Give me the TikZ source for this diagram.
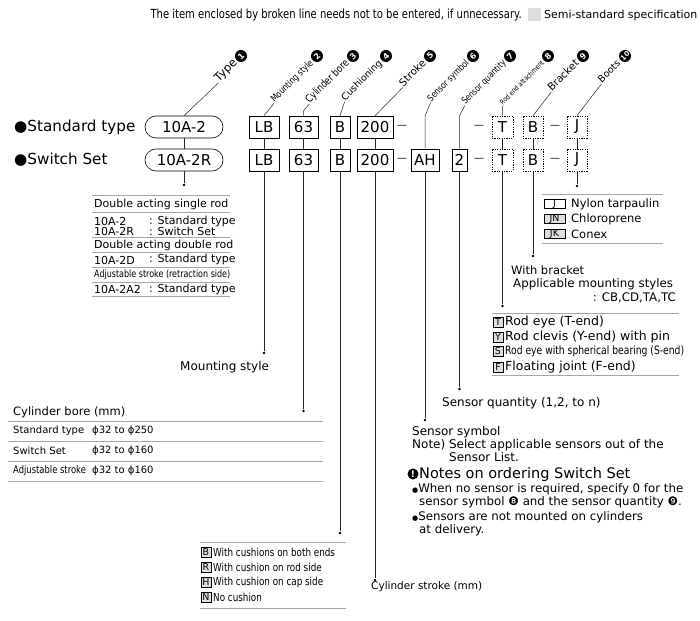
\documentclass[tikz,border=0pt]{standalone}
\usepackage{fontspec}
\setmainfont{DejaVu Sans}
\newfontfamily\narrowfont[FakeStretch=0.8]{DejaVu Sans}
\newcommand{\fs}[1]{\fontsize{#1}{#1}\selectfont}
\usetikzlibrary{calc}

\begin{document}
\begin{tikzpicture}[x=1pt,y=-1pt,
    box/.style={draw,line width=0.6pt,minimum height=22pt,inner sep=0pt,font=\fs{15}},
    optbox/.style={box,dash pattern=on 1.2pt off 1.2pt},
    sep/.style={inner sep=0pt,font=\fs{10}},
    conn/.style={line width=0.5pt,black!85},
    rule/.style={line width=0.7pt,gray!70},
    dot/.style={circle,fill=black,inner sep=0pt,minimum size=2.8pt},
    lab/.style={rotate=45,anchor=base east,inner sep=0.5pt},
    numc/.style={circle,fill=black,text=white,inner sep=0pt,minimum size=12pt,font=\bfseries\fs{8},rotate=45},
    txt/.style={anchor=west,inner sep=0pt},
    key/.style={draw,line width=0.5pt,fill=gray!25,inner sep=0pt,minimum size=10pt,font=\fs{9.5}}]
\useasboundingbox (0,0) rectangle (700,620);

% header
\node[txt,anchor=east,font=\narrowfont\fs{12.5}] (hdr) at (522,15) {The item enclosed by broken line needs not to be entered, if unnecessary.};
\node[fill=gray!25,inner sep=0pt,minimum size=13pt] (semikey) at (534.5,14.5) {};
\node[txt,font=\fs{11}] (semitxt) at (544,15) {Semi-standard specification};

% row labels
\node[txt,font=\fs{15.2}] (stdlbl) at (14,127) {●Standard type};
\node[txt,font=\fs{15.2}] (swlbl) at (14,160) {●Switch Set};

% row 1
\node[box,rounded corners=11pt,minimum width=78pt] (ty1) at (184,127) {10A-2};
\node[box,minimum width=30pt] (lb1) at (264,127) {LB};
\node[box,minimum width=29pt] (bo1) at (303.5,127) {63};
\node[box,minimum width=20pt] (cu1) at (340,127) {B};
\node[box,minimum width=36pt] (st1) at (375,127) {200};
\node[sep] (da1) at (402,127) {—};
\node[sep] (db1) at (479,127) {—};
\node[optbox,minimum width=21pt] (re1) at (502.5,127) {T};
\node[optbox,minimum width=20pt] (bk1) at (533,127) {B};
\node[sep] (dc1) at (555,127) {—};
\node[optbox,minimum width=20pt] (bt1) at (577,127) {J};

% row 2
\node[box,rounded corners=11pt,minimum width=78pt] (ty2) at (184,160) {10A-2R};
\node[box,minimum width=30pt] (lb2) at (264,160) {LB};
\node[box,minimum width=29pt] (bo2) at (303.5,160) {63};
\node[box,minimum width=20pt] (cu2) at (340,160) {B};
\node[box,minimum width=36pt] (st2) at (375,160) {200};
\node[sep] (da2) at (402,160) {—};
\node[box,minimum width=28pt] (ss2) at (425,160) {AH};
\node[box,minimum width=15pt] (sq2) at (459.5,160) {2};
\node[sep] (db2) at (479,160) {—};
\node[optbox,minimum width=21pt] (re2) at (502.5,160) {T};
\node[optbox,minimum width=20pt] (bk2) at (533,160) {B};
\node[sep] (dc2) at (555,160) {—};
\node[optbox,minimum width=20pt] (bt2) at (577,160) {J};

\foreach \n in {ty,lb,bo,cu,st,re,bk,bt}
    \draw[conn] (\n1) -- (\n2);

% item numbers and their leaders
\node[numc] (c1) at (241,56) {1};
\node[numc] (c2) at (317,56) {2};
\node[numc] (c3) at (353,56) {3};
\node[numc] (c4) at (386,56) {4};
\node[numc] (c5) at (430,56) {5};
\node[numc] (c6) at (473,56) {6};
\node[numc] (c7) at (510,56) {7};
\node[numc] (c8) at (548,56) {8};
\node[numc] (c9) at (583,56) {9};
\node[numc,font=\bfseries\fs{7}] (c10) at (625,56) {10};

\node[lab,font=\fs{11.5}] (tType) at ($(c1)+(-3,7.3)$) {Type};
\draw[conn] (ty1.north) -- (tType.base west);
\node[lab,font=\narrowfont\fs{9.3}] (tMount) at ($(c2)+(-3,7.3)$) {Mounting style};
\draw[conn] (lb1.north) -- (tMount.base west);
\node[lab,font=\narrowfont\fs{10.5}] (tBore) at ($(c3)+(-3,7.3)$) {Cylinder bore};
\draw[conn] (bo1.north) -- ++(0,-5) -- (tBore.base west);
\node[lab,font=\fs{9.5}] (tCush) at ($(c4)+(-3,7.3)$) {Cushioning};
\draw[conn] (cu1.north) -- (tCush.base west);
\node[lab,font=\fs{10.3}] (tStroke) at ($(c5)+(-3,7.3)$) {Stroke};
\draw[conn] (st1.north) -- (tStroke.base west);
\node[lab,font=\narrowfont\fs{9.2}] (tSym) at ($(c6)+(-3,7.3)$) {Sensor symbol};
\draw[conn] (ss2.north) -- (ss2.north |- lb1.north) -- (tSym.base west);
\node[lab,font=\narrowfont\fs{9.2}] (tQty) at ($(c7)+(-3,7.3)$) {Sensor quantity};
\draw[conn] (sq2.north) -- (sq2.north |- lb1.north) -- (tQty.base west);
\node[lab,font=\narrowfont\fs{7.2}] (tRod) at ($(c8)+(-3,7.3)$) {Rod end attachment};
\draw[conn] (re1.north) -- (tRod.base west);
\node[lab,font=\fs{10.3}] (tBrk) at ($(c9)+(-3,7.3)$) {Bracket};
\draw[conn] (bk1.north) -- (tBrk.base west);
\node[lab,font=\fs{9.6}] (tBoot) at ($(c10)+(-3.5,7.8)$) {Boots};
\draw[conn] (bt1.north) -- (tBoot.base west);

% drop lines
\node[dot] (tyDot) at (184,185) {};
\node[dot] (lbDot) at (264,353) {};
\node[dot] (boDot) at (303.5,411) {};
\node[dot] (cuDot) at (340,533) {};
\node[dot] (stDot) at (375,580) {};
\node[dot] (ssDot) at (425,420) {};
\node[dot] (sqDot) at (459.5,389) {};
\node[dot] (reDot) at (502.5,306) {};
\node[dot] (bkDot) at (533,256) {};
\node[dot] (btDot) at (577,186) {};
\foreach \n in {ty,lb,bo,cu,st,ss,sq,re,bk,bt}
    \draw[conn] (\n2) -- (\n Dot);

% type table
\foreach \y in {195,212,237,252,267,282,296}
    \draw[rule] (92,\y) -- (230,\y);
\node[txt,font=\fs{11}] (tyA) at (94,204) {Double acting single rod};
\node[txt,font=\fs{11}] (tyB) at (94,221) {10A-2};
\node[txt,font=\fs{11}] (tyBc) at (149,221) {: Standard type};
\node[txt,font=\fs{11}] (tyC) at (94,231) {10A-2R};
\node[txt,font=\fs{11}] (tyCc) at (149,231) {: Switch Set};
\node[txt,font=\fs{11}] (tyD) at (94,245) {Double acting double rod};
\node[txt,font=\fs{11}] (tyE) at (94,260) {10A-2D};
\node[txt,font=\fs{11}] (tyEc) at (149,259) {: Standard type};
\node[txt,font=\narrowfont\fs{10}] (tyF) at (94,275) {Adjustable stroke (retraction side)};
\node[txt,font=\fs{11}] (tyG) at (94,289) {10A-2A2};
\node[txt,font=\fs{11}] (tyGc) at (149,289) {: Standard type};

% mounting style
\node[txt,font=\fs{12}] (msTxt) at (180,367) {Mounting style};

% cylinder bore table
\node[txt,font=\fs{11.5}] (cbTitle) at (13,412) {Cylinder bore (mm)};
\foreach \y in {421,441,461,481}
    \draw[rule] (8,\y) -- (323,\y);
\node[txt,font=\fs{10}] (cbA) at (13,431) {Standard type};
\node[txt,font=\fs{10}] (cbAv) at (92,431) {ϕ32 to ϕ250};
\node[txt,font=\fs{10}] (cbB) at (13,451) {Switch Set};
\node[txt,font=\fs{10}] (cbBv) at (92,451) {ϕ32 to ϕ160};
\node[txt,font=\narrowfont\fs{10.5}] (cbC) at (13,471) {Adjustable stroke};
\node[txt,font=\fs{10}] (cbCv) at (92,471) {ϕ32 to ϕ160};

% cushioning table
\draw[rule] (200,542) -- (346,542);
\draw[rule] (200,608) -- (346,608);
\node[key] (kB) at (206,552) {B};
\node[txt,font=\narrowfont\fs{11}] (cuA) at (213,552) {With cushions on both ends};
\node[key] (kR) at (206,567) {R};
\node[txt,font=\narrowfont\fs{11}] (cuB) at (213,567) {With cushion on rod side};
\node[key] (kH) at (206,582) {H};
\node[txt,font=\narrowfont\fs{11}] (cuC) at (213,582) {With cushion on cap side};
\node[key] (kN) at (206,597) {N};
\node[txt,font=\narrowfont\fs{11}] (cuD) at (213,597) {No cushion};

% stroke
\node[txt,font=\fs{10.5}] (stTxt) at (371,587) {Cylinder stroke (mm)};

% sensor quantity, symbol, notes
\node[txt,font=\fs{12}] (sqTxt) at (442,403) {Sensor quantity (1,2, to n)};
\node[txt,font=\fs{12}] (ssTxt) at (412,432) {Sensor symbol};
\node[txt,font=\fs{12}] (ssNote) at (412,445) {Note) Select applicable sensors out of the};
\node[txt,font=\fs{12}] (ssNote2) at (449,457) {Sensor List.};
\node[circle,fill=black,text=white,inner sep=0pt,minimum size=11pt,font=\bfseries\fs{9}] (warn) at (413,474) {!};
\node[txt,font=\fs{14.5}] (noteHd) at (419,474) {Notes on ordering Switch Set};
\node[txt,font=\fs{11.8}] (noteA) at (412,489) {{\fs{7}●}When no sensor is required, specify 0 for the};
\node[txt,font=\fs{11.8}] (noteA2) at (419,502) {sensor symbol ❽ and the sensor quantity ❾.};
\node[txt,font=\fs{11.8}] (noteB) at (412,517) {{\fs{7}●}Sensors are not mounted on cylinders};
\node[txt,font=\fs{11.8}] (noteB2) at (419,530) {at delivery.};

% rod end table
\draw[rule] (492,313) -- (679,313);
\draw[rule] (492,375) -- (679,375);
\node[key] (kT) at (498,322) {T};
\node[txt,font=\fs{12.5}] (reA) at (505,322) {Rod eye (T-end)};
\node[key] (kY) at (498,337) {Y};
\node[txt,font=\fs{12.5}] (reB) at (505,337) {Rod clevis (Y-end) with pin};
\node[key] (kS) at (498,351) {S};
\node[txt,font=\narrowfont\fs{11.5}] (reC) at (505,351) {Rod eye with spherical bearing (S-end)};
\node[key] (kF) at (498,367) {F};
\node[txt,font=\fs{12.5}] (reD) at (505,367) {Floating joint (F-end)};

% bracket
\node[txt,font=\fs{11.5}] (bkA) at (511,270) {With bracket};
\node[txt,font=\fs{11.8}] (bkB) at (513,284) {Applicable mounting styles};
\node[txt,anchor=east,font=\fs{11.8}] (bkC) at (676,298) {: CB,CD,TA,TC};

% boots table
\draw[rule] (542,194) -- (663,194);
\draw[rule] (542,243) -- (663,243);
\node[key,fill=white,minimum width=21pt,minimum height=9pt] (kJ) at (554.5,204) {J};
\node[txt,font=\fs{11.5}] (btA) at (571,204) {Nylon tarpaulin};
\node[key,minimum width=21pt,minimum height=9pt] (kJN) at (554.5,219) {JN};
\node[txt,font=\fs{11.5}] (btB) at (571,219) {Chloroprene};
\node[key,minimum width=21pt,minimum height=9pt] (kJK) at (554.5,234) {JK};
\node[txt,font=\fs{11.5}] (btC) at (571,234) {Conex};
\end{tikzpicture}
\end{document}
